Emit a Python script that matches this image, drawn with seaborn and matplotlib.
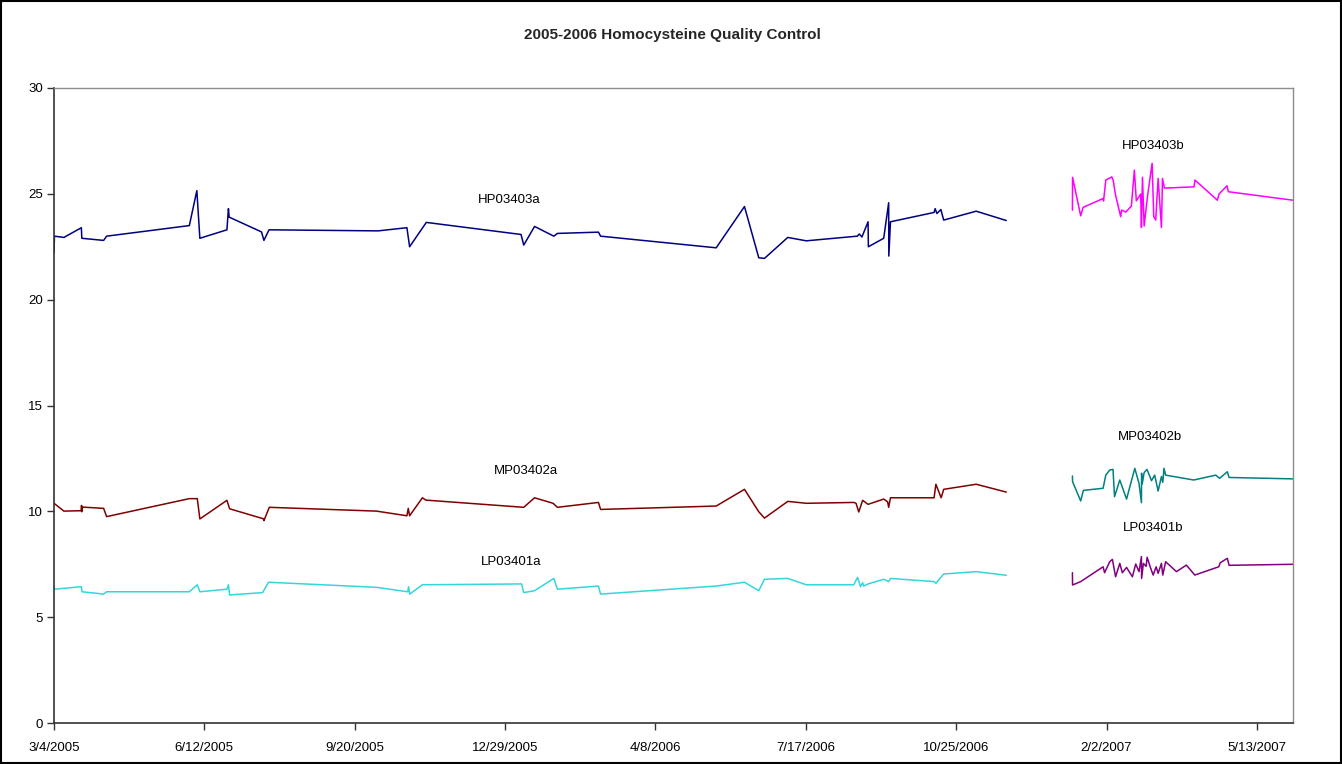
import matplotlib
matplotlib.use("Agg")
import matplotlib.pyplot as plt
from matplotlib.patches import Rectangle
import pandas as pd
import seaborn as sns

START = "2005-03-04"

hp_a_day = [0, 0.3, 6.6, 18.2, 18.5, 33, 35, 90, 95, 97, 115, 116, 116.5, 138, 139.6, 143, 215.6, 234.7, 236.5, 247.6,
            310.6, 312.4, 319.6, 332.4, 334.8, 362.1, 363.5, 440.4, 459.2, 468.7, 472.5, 488, 500.3, 534.2, 535.6,
            537.3, 541.4, 541.6, 551.8, 555.1, 555.2, 556.3, 585.3, 586, 587.2, 589.8, 591.7, 613.3, 633.3]
hp_a_val = [22.2, 23.0, 22.94, 23.4, 22.9, 22.8, 23.0, 23.5, 25.15, 22.9, 23.3, 24.3, 23.9, 23.2, 22.8, 23.3, 23.25,
            23.4, 22.5, 23.65, 23.08, 22.58, 23.46, 23.0, 23.13, 23.19, 23.0, 22.45, 24.4, 21.98, 21.95, 22.94, 22.78,
            23.0, 23.1, 22.96, 23.68, 22.5, 22.9, 24.58, 22.06, 23.68, 24.12, 24.3, 24.07, 24.26, 23.76, 24.18, 23.74]

mp_a_day = [0, 6.6, 18.2, 18.3, 18.4, 19, 33, 35, 90, 95.3, 97, 115, 116.8, 139.2, 139.6, 143.2, 214.5, 234.7, 235.6,
            236.5, 245, 247.3, 312.4, 319.6, 331.9, 334.8, 362.1, 363.5, 440.4, 459.2, 468.7, 472.5, 488, 500.3, 531.9,
            533.4, 535.2, 537.8, 541.4, 551.8, 554.4, 555.1, 556.3, 585.3, 586.5, 590, 591.7, 613.3, 633.3]
mp_a_val = [10.38, 10.01, 10.03, 10.28, 9.98, 10.2, 10.14, 9.75, 10.6, 10.6, 9.64, 10.52, 10.12, 9.65, 9.56, 10.19,
            10.01, 9.79, 10.14, 9.79, 10.64, 10.53, 10.19, 10.64, 10.38, 10.19, 10.42, 10.09, 10.25, 11.04, 9.98, 9.68,
            10.47, 10.38, 10.42, 10.38, 9.97, 10.52, 10.33, 10.58, 10.45, 10.19, 10.64, 10.64, 11.28, 10.64, 11.04,
            11.28, 10.91]

lp_a_day = [0, 0.3, 18.2, 18.6, 33, 35, 90, 95.3, 97, 115, 116, 116.8, 138.7, 142.7, 214.5, 235.2, 235.8, 236.5, 245,
            311, 312.4, 319.6, 332.4, 334.8, 362.1, 363.5, 440.4, 459.2, 468.7, 472.5, 488, 500.3, 531.9, 534.4, 536.4,
            537.8, 538.5, 541.4, 551.8, 555.1, 556.3, 585.3, 586.5, 591.7, 613.3, 633.3]
lp_a_val = [6.44, 6.32, 6.44, 6.2, 6.09, 6.2, 6.2, 6.53, 6.2, 6.32, 6.53, 6.05, 6.16, 6.65, 6.41, 6.2, 6.44, 6.09,
            6.53, 6.57, 6.16, 6.25, 6.83, 6.32, 6.47, 6.09, 6.47, 6.65, 6.25, 6.79, 6.83, 6.53, 6.53, 6.88, 6.44, 6.63,
            6.47, 6.57, 6.79, 6.68, 6.83, 6.68, 6.6, 7.04, 7.15, 6.98]

hp_b_day = [677.3, 677.4, 682.8, 684.4, 697.7, 698, 699.5, 703.5, 704.4, 706, 709.4, 710, 712.8, 716.5, 718.5, 719.8,
            722.7, 723.2, 723.9, 725, 727.2, 730.3, 731.4, 732.7, 734.3, 736.5, 737.2, 738.5, 758.2, 758.8, 773.7,
            774.8, 780.1, 781, 826]
hp_b_val = [24.23, 25.78, 23.96, 24.36, 24.78, 24.66, 25.65, 25.8, 25.65, 24.94, 23.92, 24.23, 24.14, 24.42, 26.12,
            24.67, 24.99, 23.41, 25.78, 23.48, 24.86, 26.44, 23.92, 23.76, 25.73, 23.41, 25.73, 25.27, 25.33, 25.65,
            24.7, 24.99, 25.38, 25.1, 24.68]

mp_b_day = [677.3, 677.4, 682.8, 684.6, 697.7, 699.5, 702.1, 704.3, 705.3, 708.8, 713.3, 718.8, 721.6, 723.2, 723.3,
            723.7, 725, 726.9, 729.9, 732, 734.3, 736.5, 737.4, 738.2, 739.3, 758, 772.6, 775.2, 780.3, 781.5, 826]
mp_b_val = [11.67, 11.4, 10.49, 10.99, 11.09, 11.71, 11.95, 11.98, 10.69, 11.48, 10.58, 12.03, 11.32, 10.41, 11.8,
            11.29, 11.83, 11.98, 11.45, 11.71, 10.96, 11.64, 11.37, 12.03, 11.71, 11.48, 11.71, 11.56, 11.87, 11.6,
            11.53]

lp_b_day = [677.3, 677.4, 682.8, 697.7, 698.7, 702.1, 703.9, 706, 708.8, 710.5, 713.3, 717.2, 719.4, 721.6, 723.2,
            723.3, 724.5, 726.3, 727, 729, 731, 733, 734.3, 736.5, 737.4, 739.3, 746.5, 753.1, 758.7, 774.6, 775.6,
            780.3, 781.5, 826]
lp_b_val = [7.1, 6.52, 6.68, 7.38, 7.1, 7.62, 7.73, 6.91, 7.54, 7.1, 7.35, 6.91, 7.51, 7.15, 7.86, 6.83, 7.54, 7.4,
            7.83, 7.38, 6.99, 7.38, 7.07, 7.54, 6.99, 7.62, 7.15, 7.46, 6.99, 7.38, 7.57, 7.78, 7.45, 7.5]

series_names = ["HP03403a", "MP03402a", "LP03401a", "HP03403b", "MP03402b", "LP03401b"]
series_days = [hp_a_day, mp_a_day, lp_a_day, hp_b_day, mp_b_day, lp_b_day]
series_vals = [hp_a_val, mp_a_val, lp_a_val, hp_b_val, mp_b_val, lp_b_val]
series_colors = ["#000080", "#800000", "#33D6DC", "#FF00FF", "#008080", "#800080"]
# label anchor (day offset, value) for in-plot series names
label_pos = [(303, 24.7), (314, 11.9), (304, 7.6), (731, 27.25), (729, 13.5), (731, 9.2)]

tick_days = [0, 100, 200, 300, 400, 500, 600, 700, 800]
x_end_day = 824

sns.set_theme(style="white")
plt.rcParams["font.family"] = ["Liberation Sans", "DejaVu Sans"]

start = pd.Timestamp(START)
to_date = lambda d: start + pd.to_timedelta(d, unit="D")

fig = plt.figure(figsize=(13.42, 7.64), dpi=100)
ax = fig.add_axes([54 / 1342, 41 / 764, (1293 - 54) / 1342, (723 - 88) / 764])

for name, days, vals, col in zip(series_names, series_days, series_vals, series_colors):
    df = pd.DataFrame({"date": [to_date(d) for d in days], "value": vals})
    sns.lineplot(data=df, x="date", y="value", color=col, lw=1.1, estimator=None, sort=False, ax=ax)

for name, (d, v) in zip(series_names, label_pos):
    ax.text(to_date(d), v, name, ha="center", va="center", fontsize=9.5, color="black")

ax.set_xlim(to_date(0), to_date(x_end_day))
ax.set_ylim(0, 30)
ax.set_yticks([0, 5, 10, 15, 20, 25, 30])
ticks = [to_date(d) for d in tick_days]
ax.set_xticks(ticks)
ax.set_xticklabels([f"{t.month}/{t.day}/{t.year}" for t in ticks])
ax.set_xlabel("")
ax.set_ylabel("")
ax.tick_params(axis="both", which="major", direction="out", length=5, width=1, color="#333333",
               labelsize=9.5, labelcolor="black", bottom=True, left=True)
ax.tick_params(axis="x", pad=9)
ax.tick_params(axis="y", pad=3)
for s in ["left", "bottom"]:
    ax.spines[s].set_color("#333333")
    ax.spines[s].set_linewidth(1.2)
for s in ["top", "right"]:
    ax.spines[s].set_color("#8c8c8c")
    ax.spines[s].set_linewidth(1.0)
ax.grid(False)

fig.text((523 + 822) / 2 / 1342, 1 - 35 / 764, "2005-2006 Homocysteine Quality Control",
         ha="center", va="center", fontsize=11, fontweight="bold")

fig.patches.append(Rectangle((0.001, 0.001), 0.998, 0.998, transform=fig.transFigure, fill=False,
                             edgecolor="black", linewidth=1.5))

fig.savefig("out.png", dpi=100)
